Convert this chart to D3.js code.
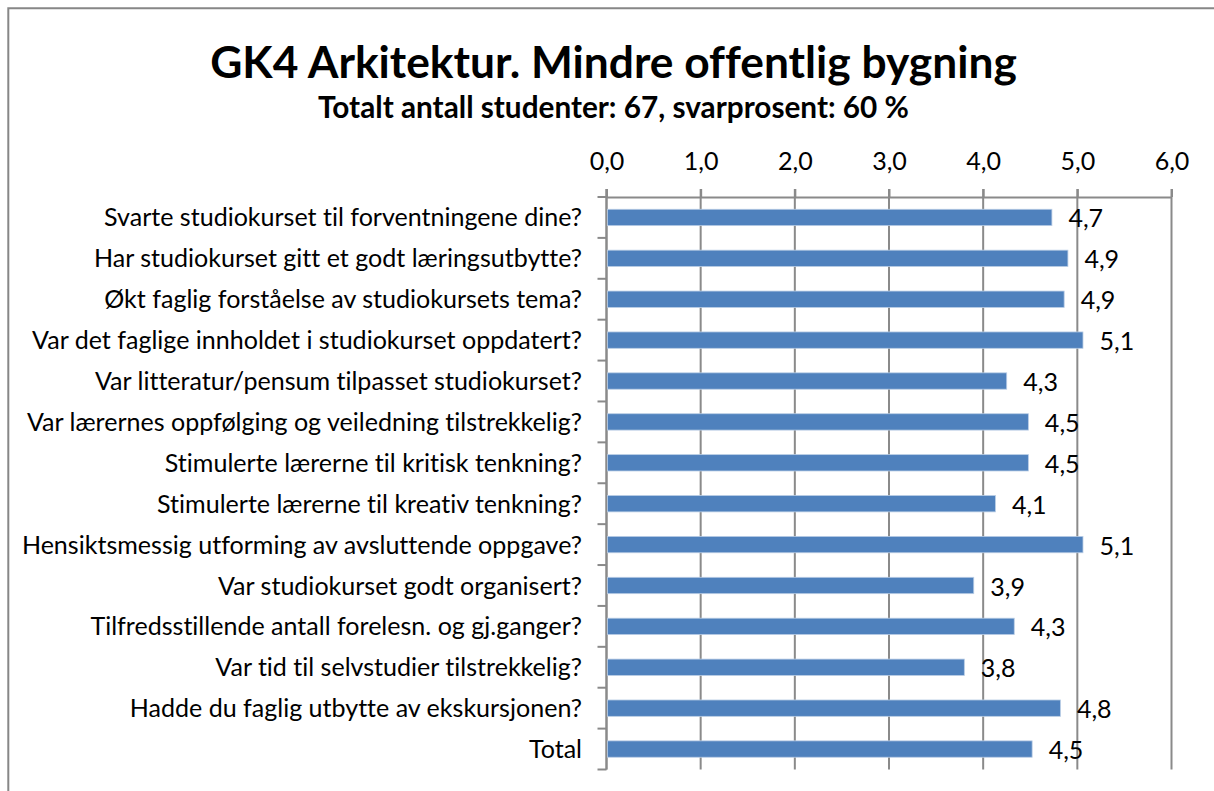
<!DOCTYPE html>
<html>
<head>
<meta charset="utf-8">
<script src="https://cdn.jsdelivr.net/npm/d3@7"></script>
<style>
  html, body { margin: 0; padding: 0; background: #fff; }
  svg { display: block; }
  text { font-variant-ligatures: none; font-feature-settings: "liga" 0, "clig" 0; }
</style>
</head>
<body>
<svg id="chart" width="1214" height="791"></svg>
<script>
// ---- data ----
const title = "GK4 Arkitektur. Mindre offentlig bygning";
const subtitle = "Totalt antall studenter: 67, svarprosent: 60 %";
const categories = [
  "Svarte studiokurset til forventningene dine?",
  "Har studiokurset gitt et godt læringsutbytte?",
  "Økt faglig forståelse av studiokursets tema?",
  "Var det faglige innholdet i studiokurset oppdatert?",
  "Var litteratur/pensum tilpasset studiokurset?",
  "Var lærernes oppfølging og veiledning tilstrekkelig?",
  "Stimulerte lærerne til kritisk tenkning?",
  "Stimulerte lærerne til kreativ tenkning?",
  "Hensiktsmessig utforming av avsluttende oppgave?",
  "Var studiokurset godt organisert?",
  "Tilfredsstillende antall forelesn. og gj.ganger?",
  "Var tid til selvstudier tilstrekkelig?",
  "Hadde du faglig utbytte av ekskursjonen?",
  "Total"
];
const values = [4.73, 4.90, 4.86, 5.06, 4.25, 4.48, 4.48, 4.13, 5.06, 3.90, 4.33, 3.80, 4.82, 4.52];
const xTicks = [0, 1, 2, 3, 4, 5, 6];

// ---- setup ----
const FONT = "Lato, 'Open Sans', 'DejaVu Sans', sans-serif";
const svg = d3.select("#chart");
const W = 1214, H = 791;
const locale = d3.formatLocale({decimal: ",", thousands: " ", grouping: [3], currency: ["", " kr"]});
const fmt = locale.format(".1f");

function fitSize(text, target, weight) {
  const t = svg.append("text").attr("font-family", FONT).attr("font-weight", weight)
    .attr("font-size", 100).text(text);
  const w = t.node().getComputedTextLength();
  t.remove();
  return 100 * target / w;
}
const titleSize = fitSize(title, 807, "bold");
const subSize = fitSize(subtitle, 591, "bold");
const labelSize = fitSize(categories[3], 550, "normal");

const grid = "#8a8a8a";

// outer border
svg.append("path").attr("d", `M8.3,${H + 5} V8.3 H${W + 5}`)
  .attr("fill", "none").attr("stroke", "#878787").attr("stroke-width", 2);

// titles
svg.append("text").attr("x", 613.5).attr("y", 78).attr("text-anchor", "middle")
  .attr("font-family", FONT).attr("font-weight", "bold").attr("font-size", titleSize)
  .attr("fill", "#000").text(title);
svg.append("text").attr("x", 613.5).attr("y", 118).attr("text-anchor", "middle")
  .attr("font-family", FONT).attr("font-weight", "bold").attr("font-size", subSize)
  .attr("fill", "#000").text(subtitle);

// scales
const x = d3.scaleLinear().domain([0, 6]).range([606.5, 1171.5]);
const y = d3.scaleBand().domain(categories).range([197, 769.5]).paddingInner(0.6).paddingOuter(0.3);

// gridlines
svg.append("g").selectAll("line").data(xTicks).join("line")
  .attr("x1", d => x(d)).attr("x2", d => x(d))
  .attr("y1", 189).attr("y2", 769.5)
  .attr("stroke", grid).attr("stroke-width", 2);

// top axis
const xAxis = svg.append("g").attr("transform", "translate(0,197)")
  .call(d3.axisTop(x).tickValues(xTicks).tickFormat(fmt).tickSize(8).tickSizeOuter(0).tickPadding(19));
xAxis.select(".domain").attr("stroke", grid).attr("stroke-width", 2);
xAxis.selectAll(".tick line").attr("stroke", grid).attr("stroke-width", 2);
xAxis.selectAll(".tick text").attr("font-family", FONT).attr("font-size", labelSize).attr("fill", "#000");

// left axis line & boundary ticks
const step = y.step();
const y0 = y.range()[0];
const bounds = d3.range(categories.length + 1).map(i => y0 + i * step);
svg.append("line").attr("x1", x(0)).attr("x2", x(0)).attr("y1", 189).attr("y2", 769.5)
  .attr("stroke", grid).attr("stroke-width", 2);
svg.append("g").selectAll("line").data(bounds).join("line")
  .attr("x1", x(0) - 9).attr("x2", x(0)).attr("y1", d => d).attr("y2", d => d)
  .attr("stroke", grid).attr("stroke-width", 2);

// bars
svg.append("g").selectAll("rect").data(values).join("rect")
  .attr("x", x(0) + 1)
  .attr("y", (d, i) => y(categories[i]))
  .attr("width", d => x(d) - x(0) - 1)
  .attr("height", y.bandwidth())
  .attr("fill", "#4f81bd")
  .attr("stroke", "#b9cde5").attr("stroke-width", 0.8);

// category labels
svg.append("g").selectAll("text").data(categories).join("text")
  .attr("x", x(0) - 24.5)
  .attr("y", d => y(d) + y.bandwidth() / 2)
  .attr("dy", "0.36em")
  .attr("text-anchor", "end")
  .attr("font-family", FONT).attr("font-size", labelSize).attr("fill", "#000")
  .text(d => d);

// value labels
svg.append("g").selectAll("text").data(values).join("text")
  .attr("x", d => x(d) + 16.5)
  .attr("y", (d, i) => y(categories[i]) + y.bandwidth() / 2)
  .attr("dy", "0.4em")
  .attr("font-family", FONT).attr("font-size", labelSize).attr("fill", "#000")
  .text(d => fmt(d));
</script>
</body>
</html>
